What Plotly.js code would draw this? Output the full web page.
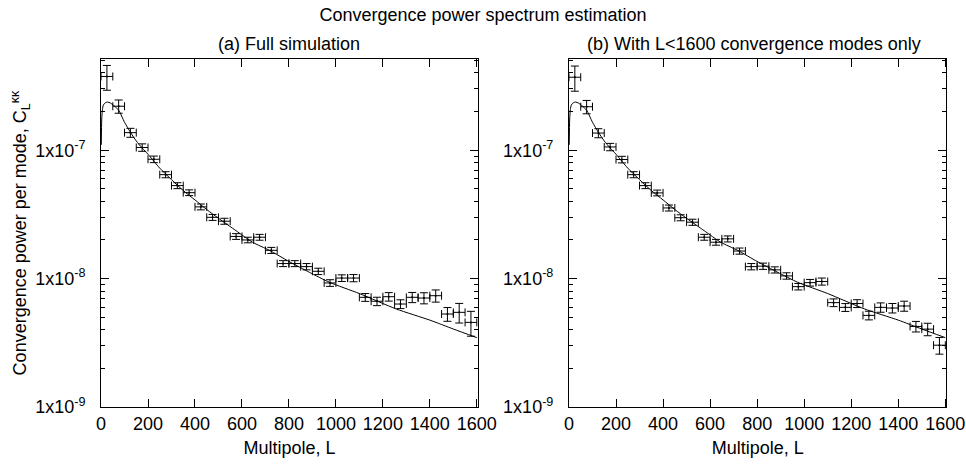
<!DOCTYPE html>
<html>
<head>
<meta charset="utf-8">
<script src="https://cdn.plot.ly/plotly-3.0.1.min.js"></script>
<style>html,body{margin:0;padding:0;background:#fff;}#chart{width:966px;height:464px;}</style>
</head>
<body>
<div id="chart"></div>
<script>
// Multipole bin centres (bins of width 50)
const multipoles = [25,75,125,175,225,275,325,375,425,475,525,575,625,675,725,775,825,875,925,975,1025,1075,1125,1175,1225,1275,1325,1375,1425,1475,1525,1575];

// (a) Full simulation
const powerFull = [3.75e-7,2.2e-7,1.37e-7,1.05e-7,8.5e-8,6.45e-8,5.3e-8,4.67e-8,3.62e-8,3.0e-8,2.8e-8,2.13e-8,2.0e-8,2.1e-8,1.66e-8,1.31e-8,1.31e-8,1.24e-8,1.14e-8,9.25e-9,1.01e-8,1.01e-8,7.15e-9,6.66e-9,7.23e-9,6.34e-9,7.15e-9,7.06e-9,7.36e-9,5.3e-9,5.46e-9,4.56e-9];
const errFull = [8.2e-8,2.6e-8,1.1e-8,7e-9,5e-9,3.5e-9,2.8e-9,2.4e-9,1.9e-9,1.6e-9,1.5e-9,1.1e-9,1.0e-9,1.1e-9,9e-10,7e-10,7e-10,7e-10,6.5e-10,5.5e-10,6e-10,6.5e-10,5e-10,5e-10,5.5e-10,5e-10,6.5e-10,7e-10,8e-10,6.5e-10,9.5e-10,1.0e-9];

// (b) With L<1600 convergence modes only
const powerCut = [3.7e-7,2.18e-7,1.36e-7,1.06e-7,8.46e-8,6.45e-8,5.3e-8,4.65e-8,3.55e-8,2.98e-8,2.75e-8,2.1e-8,1.92e-8,2.04e-8,1.64e-8,1.24e-8,1.25e-8,1.17e-8,1.05e-8,8.66e-9,9.3e-9,9.5e-9,6.5e-9,5.97e-9,6.4e-9,5.17e-9,5.97e-9,5.9e-9,6.12e-9,4.24e-9,4.04e-9,3.03e-9];
const errCut = [8.2e-8,2.6e-8,1.1e-8,7e-9,5e-9,3.5e-9,2.8e-9,2.4e-9,1.9e-9,1.6e-9,1.5e-9,1.1e-9,1.0e-9,1.1e-9,9e-10,7e-10,7e-10,6.5e-10,6e-10,5e-10,5.5e-10,6e-10,4.5e-10,4.2e-10,4.5e-10,4e-10,5e-10,5e-10,5.5e-10,4e-10,4.5e-10,4.5e-10];

// Theory curve
const theoryL = [1,3,6,10,18,28,40,55,75,100,125,150,175,200,250,300,350,400,450,500,575,645,717,800,887,973,1100,1257,1400,1500,1600];
const theoryC = [1.1e-7,1.75e-7,2.08e-7,2.25e-7,2.34e-7,2.37e-7,2.33e-7,2.22e-7,2.05e-7,1.65e-7,1.38e-7,1.18e-7,1.04e-7,9.3e-8,7.25e-8,5.9e-8,4.85e-8,4.1e-8,3.45e-8,2.95e-8,2.36e-8,1.92e-8,1.66e-8,1.36e-8,1.12e-8,9.35e-9,7.65e-9,5.8e-9,4.75e-9,4.05e-9,3.47e-9];

const xTicks = [0,200,400,600,800,1000,1200,1400,1600];
const yTicks = [1e-9,1e-8,1e-7];
const yTickText = ['1x10<sup>-9</sup>','1x10<sup>-8</sup>','1x10<sup>-7</sup>'];
const yMinor = [2e-9,3e-9,4e-9,5e-9,6e-9,7e-9,8e-9,9e-9,2e-8,3e-8,4e-8,5e-8,6e-8,7e-8,8e-8,9e-8,2e-7,3e-7,4e-7,5e-7];
const halfBin = 25;

function pts(y, e, xa, ya) {
  return {
    x: multipoles, y: y, xaxis: xa, yaxis: ya, type: 'scatter', mode: 'markers',
    marker: {size: 2, color: '#000'},
    error_y: {type: 'data', array: e, visible: true, color: '#000', thickness: 1, width: 4},
    error_x: {type: 'constant', value: halfBin, visible: true, color: '#000', thickness: 1, width: 4},
    showlegend: false, hoverinfo: 'x+y'
  };
}
function theory(xa, ya) {
  return {
    x: theoryL, y: theoryC, xaxis: xa, yaxis: ya, type: 'scatter', mode: 'lines',
    line: {color: '#000', width: 1, shape: 'spline', smoothing: 0.6},
    showlegend: false, hoverinfo: 'skip'
  };
}

const data = [
  theory('x', 'y'), pts(powerFull, errFull, 'x', 'y'),
  theory('x2', 'y2'), pts(powerCut, errCut, 'x2', 'y2')
];

function xaxisDef(domain, anchor) {
  return {
    domain: domain, anchor: anchor, range: [0, 1605],
    tickmode: 'array', tickvals: xTicks, ticks: 'inside', ticklen: 8, tickcolor: '#000',
    showline: true, linecolor: '#000', linewidth: 1, mirror: 'allticks',
    showgrid: false, zeroline: false, ticklabelstandoff: 0,
    tickfont: {size: 18, color: '#000'},
    title: {text: 'Multipole, L', font: {size: 18, color: '#000'}, standoff: 8}
  };
}
function yaxisDef(anchor, withTitle) {
  const a = {
    anchor: anchor, type: 'log', domain: [0.1228, 0.8728], range: [-9, -6.29],
    tickmode: 'array', tickvals: yTicks, ticktext: yTickText,
    ticks: 'inside', ticklen: 8, tickcolor: '#000',
    minor: {tickmode: 'array', tickvals: yMinor, ticks: 'inside', ticklen: 4, tickcolor: '#000', showgrid: false},
    showline: true, linecolor: '#000', linewidth: 1, mirror: 'allticks',
    showgrid: false, zeroline: false, ticklabelstandoff: 11,
    tickfont: {size: 18, color: '#000'}
  };
  if (withTitle) {
    a.title = {text: 'Convergence power per mode, C<sub>L</sub><sup>κκ</sup>', font: {size: 18, color: '#000'}, standoff: 3};
  }
  return a;
}

const layout = {
  width: 966, height: 464,
  margin: {l: 0, r: 0, t: 0, b: 0},
  paper_bgcolor: '#fff', plot_bgcolor: '#fff',
  font: {family: '"Liberation Sans", Arial, sans-serif', size: 18, color: '#000'},
  title: {text: 'Convergence power spectrum estimation', x: 0.5, xanchor: 'center', y: 1 - 15/464, yref: 'container', yanchor: 'middle', font: {size: 18, color: '#000'}},
  xaxis: xaxisDef([0.1046, 0.4948], 'y'),
  yaxis: yaxisDef('x', true),
  xaxis2: xaxisDef([0.5890, 0.9798], 'y2'),
  yaxis2: yaxisDef('x2', false),
  annotations: [
    {text: '(a) Full simulation', xref: 'paper', yref: 'paper', x: 289/966, y: 1 - 44/464, xanchor: 'center', yanchor: 'middle', showarrow: false, font: {size: 18, color: '#000'}},
    {text: '(b) With L<1600 convergence modes only', xref: 'paper', yref: 'paper', x: 754/966, y: 1 - 44/464, xanchor: 'center', yanchor: 'middle', showarrow: false, font: {size: 18, color: '#000'}}
  ]
};

Plotly.newPlot('chart', data, layout, {staticPlot: true, displayModeBar: false});
</script>
</body>
</html>
